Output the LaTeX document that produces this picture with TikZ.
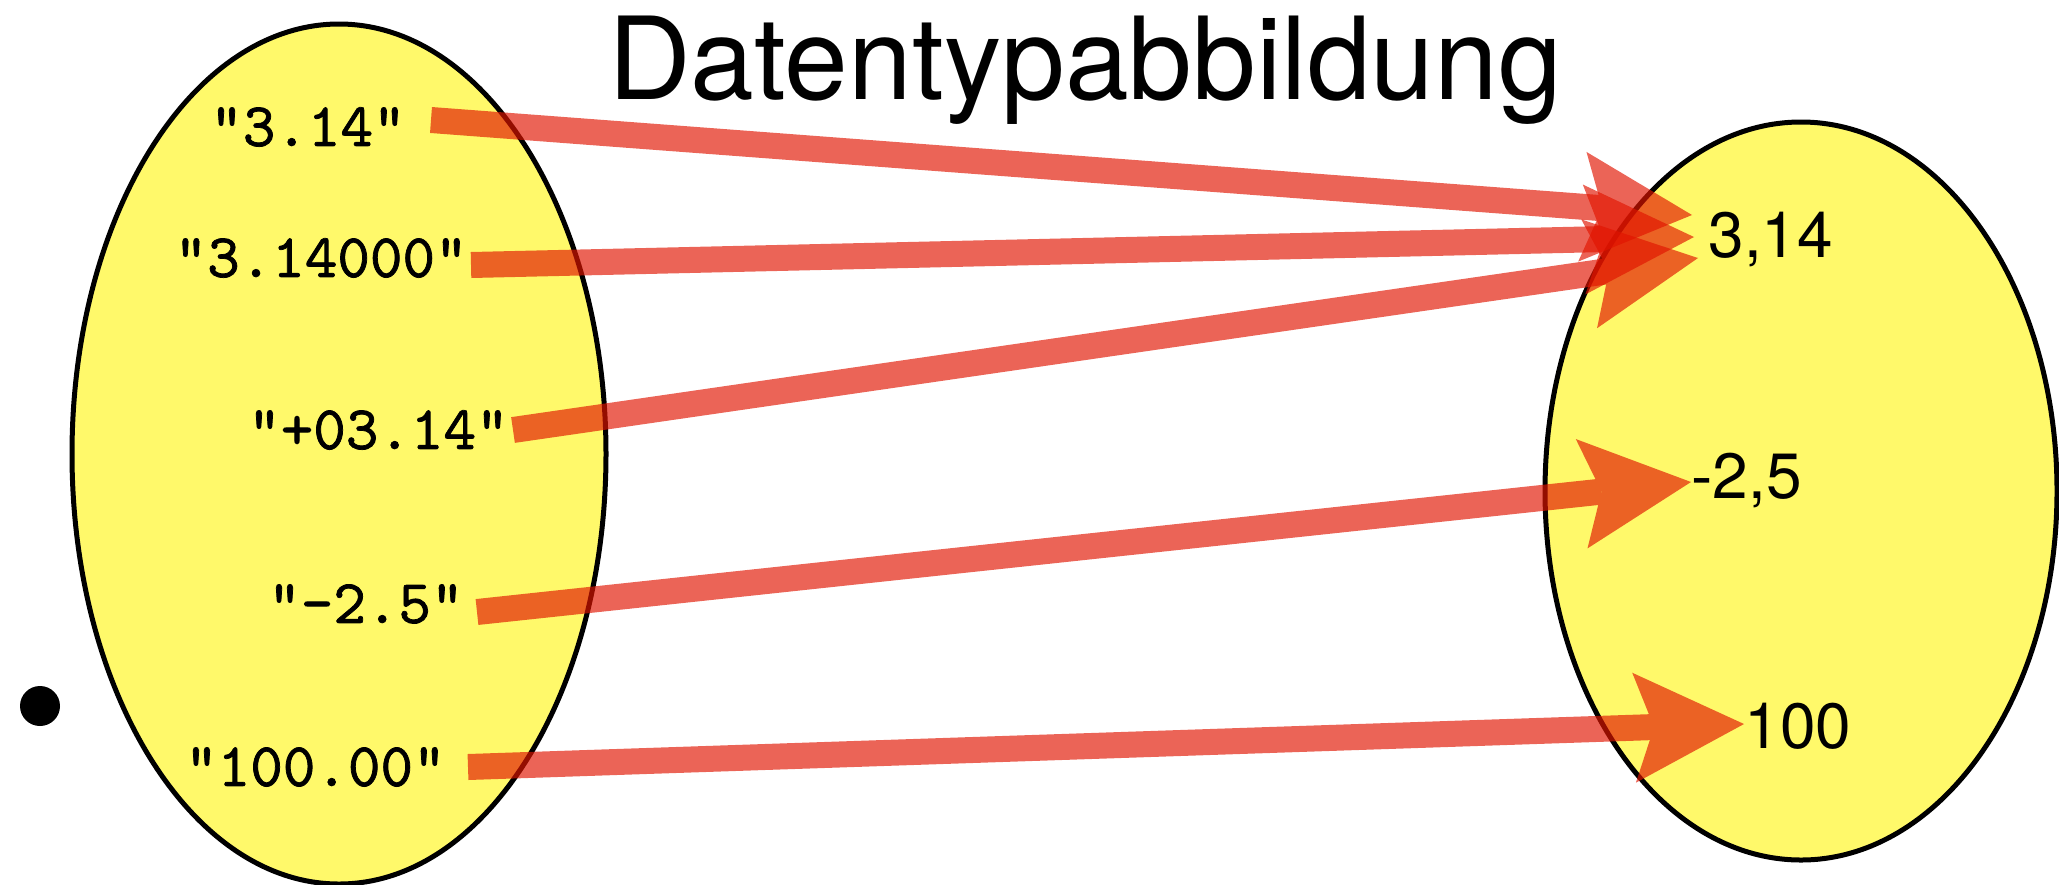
\documentclass[tikz,border=0pt]{standalone}
\usepackage{fontspec}
\newfontfamily\heros{TeX Gyre Heros}
\newfontfamily\typewriter{lmmono10-regular.otf}[FakeBold=1.2]
\usetikzlibrary{arrows.meta}

\definecolor{setyellow}{RGB}{255,249,106}
\definecolor{mapred}{RGB}{225,20,0}

\tikzset{
	set/.style={draw=black, line width=2.5pt, fill=setyellow},
	src/.style={anchor=east, inner sep=0pt, font=\typewriter\fontsize{31}{31}\selectfont},
	dst/.style={anchor=west, inner xsep=1pt, text height=22.4pt, text depth=0pt, font=\heros\fontsize{32}{32}\selectfont},
	map/.style={draw=mapred, line width=13pt, -{Stealth[length=55pt, width=55pt, inset=10pt, line width=0pt]}}
}

\begin{document}
\begin{tikzpicture}[x=0.5pt, y=-0.5pt]
	\useasboundingbox (0,0) rectangle (2059,884);

	% the two sets
	\draw[set] (339,454) ellipse [x radius=267, y radius=430];
	\draw[set] (1801,491) ellipse [x radius=256, y radius=369];

	\node[font=\heros\fontsize{57.3}{57.3}\selectfont, anchor=base, inner sep=0pt] (title) at (1085,99) {Datentypabbildung};
	\node[circle, fill, inner sep=0pt, minimum size=20pt] (dot) at (40,706) {};

	\node[src] (s1) at (406,127) {"3.14"};
	\node[src] (s2) at (468,258) {"3.14000"};
	\node[src] (s3) at (509,430) {"+03.14"};
	\node[src] (s4) at (464,604) {"-2.5"};
	\node[src] (s5) at (446,767) {"100.00"};

	\node[dst] (r1) at (1706,235) {3,14};
	\node[dst] (r2) at (1689,476) {-2,5};
	\node[dst] (r3) at (1742,726) {100};

	\coordinate (t1) at ([xshift=-7pt, yshift=10pt]r1.west);
	\coordinate (t2) at ([xshift=-6pt, yshift=-1pt]r1.west);
	\coordinate (t3) at ([xshift=-4pt, yshift=-11.5pt]r1.west);
	\coordinate (t4) at ([xshift=1pt, yshift=-3pt]r2.west);
	\coordinate (t5) at ([xshift=1pt, yshift=1pt]r3.west);

	\foreach \from/\dx/\dy/\to in {s1/12.5/3.5/t1, s2/1.5/-3.5/t2, s3/2/0/t3, s4/6.5/-4/t4, s5/11/0/t5}
	{
		\begin{scope}[transparency group, opacity=.66]
			\draw[map] ([xshift=\dx pt, yshift=\dy pt]\from.east) -- (\to);
		\end{scope}
	}
\end{tikzpicture}
\end{document}
